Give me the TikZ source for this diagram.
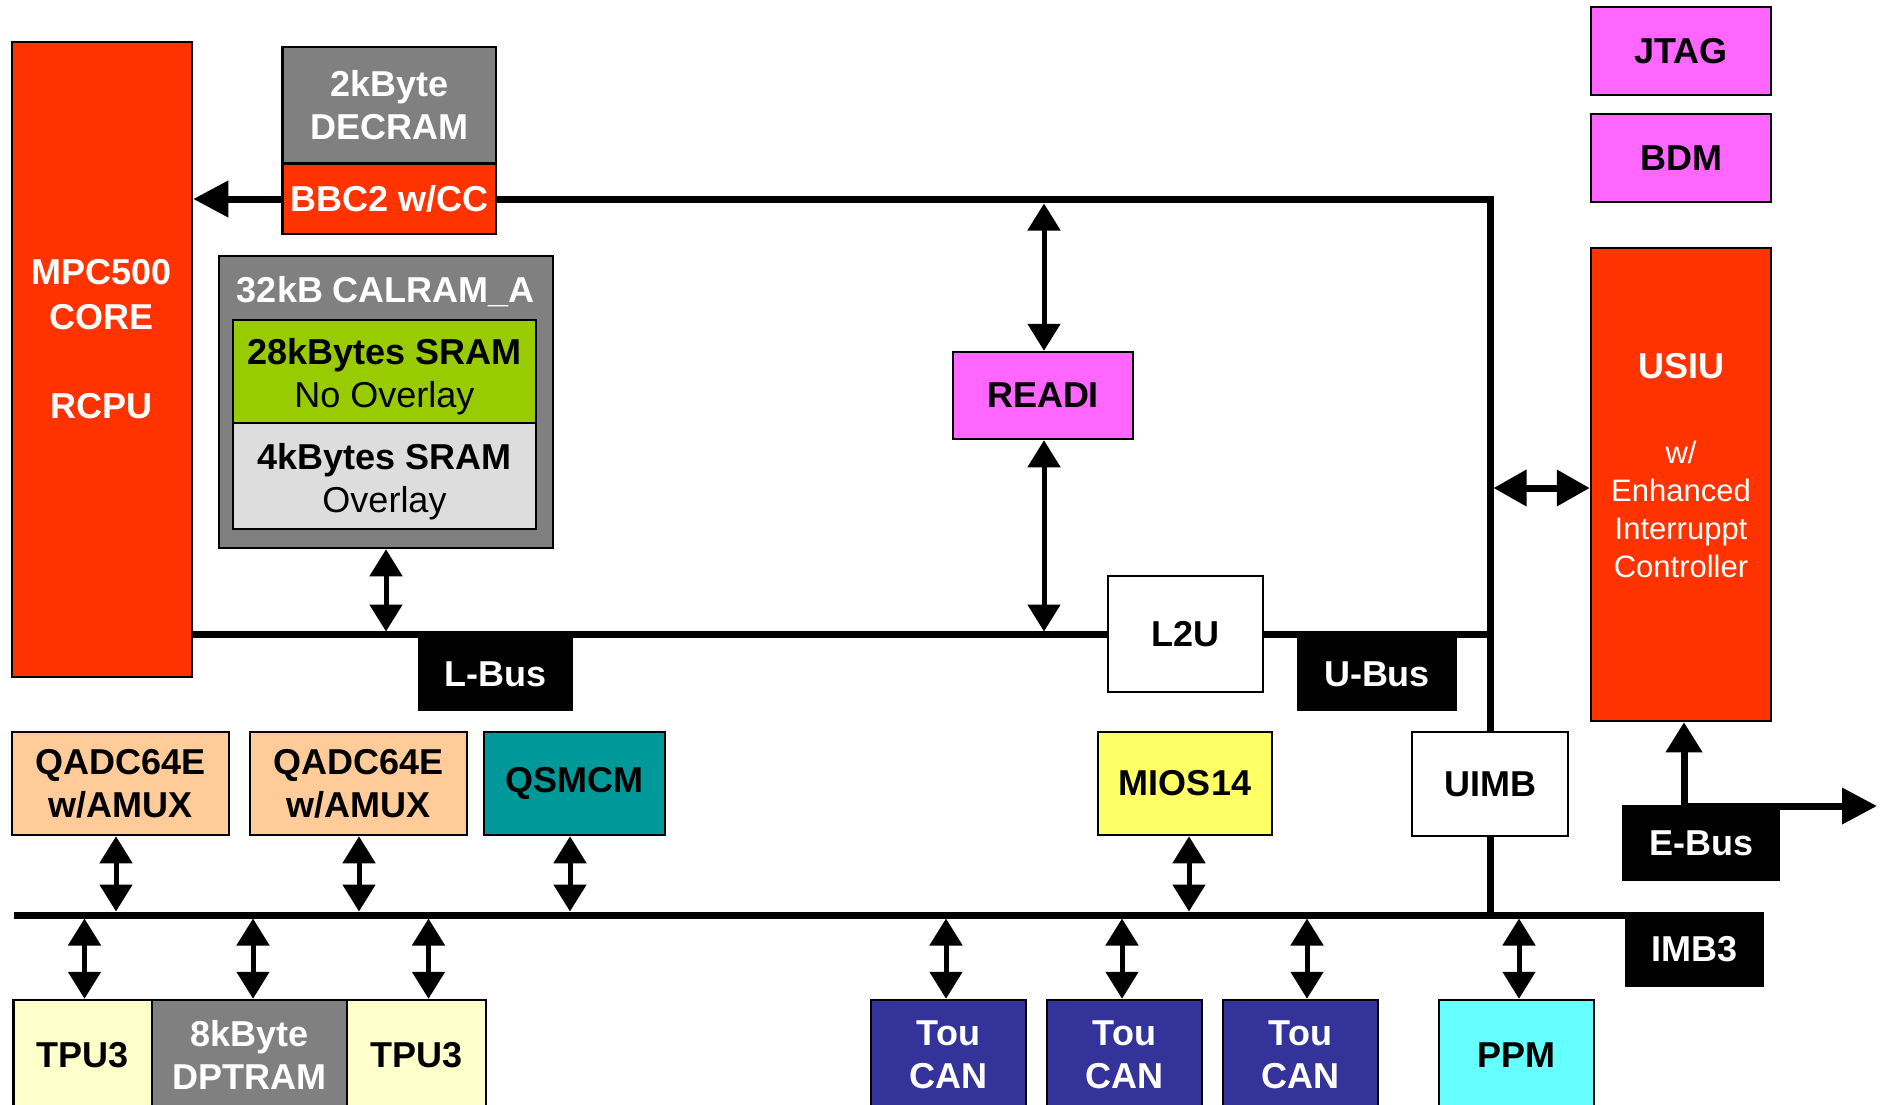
\documentclass[tikz,border=0pt]{standalone}
\usepackage{fontspec}
\setmainfont{Liberation Sans}
\usetikzlibrary{arrows.meta}
\definecolor{cred}{HTML}{FF3300}
\definecolor{cgray}{HTML}{808080}
\definecolor{cgreen}{HTML}{99CC00}
\definecolor{clgray}{HTML}{DDDDDD}
\definecolor{cmag}{HTML}{FF66FF}
\definecolor{cpeach}{HTML}{FFCC99}
\definecolor{cteal}{HTML}{009999}
\definecolor{cyel}{HTML}{FFFF66}
\definecolor{clyel}{HTML}{FFFFCC}
\definecolor{cnavy}{HTML}{333399}
\definecolor{ccyan}{HTML}{66FFFF}
\begin{document}
\begin{tikzpicture}[x=1pt,y=-1pt,
  blk/.style={draw=black,line width=2.5pt,inner sep=0pt,align=center,font=\fontsize{36}{43}\selectfont\bfseries},
  thinblk/.style={blk,line width=2pt,fill=white},
  buslbl/.style={fill=black,text=white,inner sep=0pt,font=\fontsize{36}{43}\selectfont\bfseries},
  txt/.style={inner sep=0pt,align=center,font=\fontsize{36}{43}\selectfont\bfseries},
  bus/.style={line width=7pt},
  dbl/.style={line width=5pt,{Triangle[width=32pt,length=27pt]}-{Triangle[width=32pt,length=27pt]}},
]
\useasboundingbox (0,0) rectangle (1889,1104);
\clip (0,0) rectangle (1889,1104);

% core
\node[blk,fill=cred,minimum width=180pt,minimum height=635pt] (core) at (102,359.5) {};
\node[txt,text=white,font=\fontsize{36}{44.5}\selectfont\bfseries] (coret) at (102,339) {MPC500\\CORE\\[44.5pt]RCPU};

% DECRAM / BBC
\node[blk,fill=cgray,text=white,minimum width=213.5pt,minimum height=116pt] (decram) at (389.25,105) {2kByte\\DECRAM};
\node[blk,fill=cred,text=white,minimum width=213.5pt,minimum height=70pt] (bbc) at (389.25,199) {BBC2 w/CC};

% CALRAM
\node[blk,fill=cgray,minimum width=334pt,minimum height=292pt] (calram) at (386,402) {};
\node[txt,text=white] (calt) at (386,292) {32kB CALRAM\_A};
\node[blk,fill=cgreen,minimum width=303pt,minimum height=103pt] (sram28) at (384.5,371.5) {};
\node[txt] (sram28t) at (384.5,377) {28kBytes SRAM\\\mdseries No Overlay};
\node[blk,fill=clgray,minimum width=303pt,minimum height=106pt] (sram4) at (384.5,476) {};
\node[txt] (sram4t) at (384.5,481.5) {4kBytes SRAM\\\mdseries Overlay};

% READI, L2U
\node[blk,fill=cmag,minimum width=180pt,minimum height=87pt] (readi) at (1043,395.5) {READI};
\node[thinblk,minimum width=155pt,minimum height=116pt] (l2u) at (1185.5,634) {L2U};

% right column
\node[blk,fill=cmag,minimum width=180pt,minimum height=88pt] (jtag) at (1681,51) {JTAG};
\node[blk,fill=cmag,minimum width=180pt,minimum height=88pt] (bdm) at (1681,158) {BDM};
\node[blk,fill=cred,minimum width=180pt,minimum height=473pt] (usiu) at (1681,484.5) {};
\node[txt,text=white] (usiut) at (1681,366) {USIU};
\node[txt,text=white,font=\fontsize{31}{38}\selectfont] (usiud) at (1681,509) {w/\\Enhanced\\Interruppt\\Controller};

% middle row
\node[blk,fill=cpeach,minimum width=217pt,minimum height=103pt] (qadc1) at (120.5,783.5) {QADC64E\\w/AMUX};
\node[blk,fill=cpeach,minimum width=217pt,minimum height=103pt] (qadc2) at (358.5,783.5) {QADC64E\\w/AMUX};
\node[blk,fill=cteal,minimum width=181pt,minimum height=103pt] (qsmcm) at (574.5,783.5) {QSMCM};
\node[blk,fill=cyel,minimum width=174pt,minimum height=103pt] (mios) at (1185,783.5) {MIOS14};
\node[thinblk,minimum width=156pt,minimum height=104pt] (uimb) at (1490,784) {UIMB};

% bottom row
\node[blk,fill=clyel,minimum width=138.5pt,minimum height=110pt] (tpu1) at (82.75,1055) {TPU3};
\node[blk,fill=cgray,text=white,minimum width=195pt,minimum height=110pt] (dptram) at (249.5,1055) {8kByte\\DPTRAM};
\node[blk,fill=clyel,minimum width=139pt,minimum height=110pt] (tpu2) at (416.5,1055) {TPU3};
\node[blk,fill=cnavy,text=white,minimum width=155pt,minimum height=110pt] (can1) at (948.5,1055) {Tou\\CAN};
\node[blk,fill=cnavy,text=white,minimum width=155pt,minimum height=110pt] (can2) at (1124.5,1055) {Tou\\CAN};
\node[blk,fill=cnavy,text=white,minimum width=155pt,minimum height=110pt] (can3) at (1300.5,1055) {Tou\\CAN};
\node[blk,fill=ccyan,minimum width=155pt,minimum height=110pt] (ppm) at (1516.5,1055) {PPM};

% bus labels
\node[buslbl,minimum width=155pt,minimum height=73pt] (lbus) at (495.5,674.5) {L-Bus};
\node[buslbl,minimum width=160pt,minimum height=73pt] (ubus) at (1377,674.5) {U-Bus};
\node[buslbl,minimum width=158pt,minimum height=76pt] (ebus) at (1701,843) {E-Bus};
\node[buslbl,minimum width=139pt,minimum height=75pt] (imb3) at (1694.5,949.5) {IMB3};

% buses
\draw[bus,line join=miter] (bbc.east) -| (uimb.north);
\draw[bus] (core.east |- l2u.west) -- (l2u.west);
\draw[bus] (l2u.east) -- (l2u.east -| uimb.north);
\coordinate (iml) at (14,915);
\draw[bus] (iml) -- (iml -| imb3.east);
\draw[bus] (uimb.south) -- (uimb.south |- iml);

% core arrow
\draw[bus,-{Triangle[width=35pt,length=35pt]}] (bbc.west) -- (bbc.west -| core.east);

% USIU arrow
\coordinate (ua) at (1493.5,488);
\draw[bus,{Triangle[width=35pt,length=33pt]}-{Triangle[width=35pt,length=33pt]}] (ua) -- (ua -| usiu.west);

% E-bus
\coordinate (ej) at (1684,806);
\coordinate (eout) at (1877,806);
\draw[bus,line join=miter,{Triangle[width=35pt,length=30pt]}-{Triangle[width=35pt,length=35pt]}] (ej |- usiu.south) -- (ej) -- (eout);

% READI arrows
\coordinate (rt) at (1044,203.5);
\coordinate (rb) at (1044,631.5);
\draw[dbl] (rt) -- (rt |- readi.north);
\draw[dbl] (rt |- readi.south) -- (rb);
\draw[dbl] (calram.south) -- (calram.south |- rb);

% IMB3 upper arrows
\coordinate (a1) at (116,911.5);
\coordinate (a2) at (359,911.5);
\coordinate (a3) at (570,911.5);
\coordinate (a4) at (1189,911.5);
\draw[dbl] (a1 |- qadc1.south) -- (a1);
\draw[dbl] (a2 |- qadc2.south) -- (a2);
\draw[dbl] (a3 |- qsmcm.south) -- (a3);
\draw[dbl] (a4 |- mios.south) -- (a4);

% IMB3 lower arrows
\coordinate (c1) at (84.5,918.5);
\coordinate (c2) at (253,918.5);
\coordinate (c3) at (428.5,918.5);
\coordinate (c4) at (946,918.5);
\coordinate (c5) at (1122,918.5);
\coordinate (c6) at (1307,918.5);
\coordinate (c7) at (1519,918.5);
\draw[dbl] (c1) -- (c1 |- tpu1.north);
\draw[dbl] (c2) -- (c2 |- dptram.north);
\draw[dbl] (c3) -- (c3 |- tpu2.north);
\draw[dbl] (c4) -- (c4 |- can1.north);
\draw[dbl] (c5) -- (c5 |- can2.north);
\draw[dbl] (c6) -- (c6 |- can3.north);
\draw[dbl] (c7) -- (c7 |- ppm.north);
\end{tikzpicture}
\end{document}
